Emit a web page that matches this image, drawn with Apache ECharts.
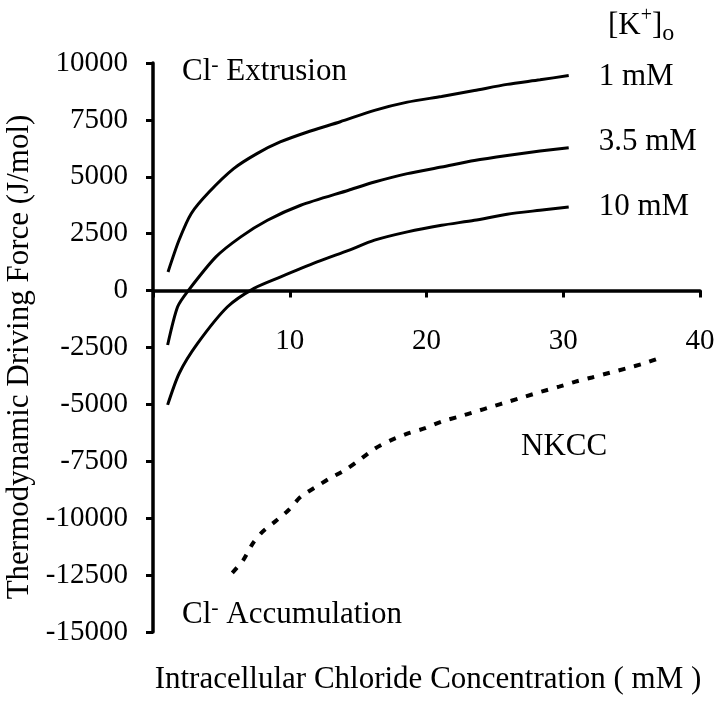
<!DOCTYPE html>
<html>
<head>
<meta charset="utf-8">
<script src="https://cdn.jsdelivr.net/npm/echarts@6/dist/echarts.min.js"></script>
<style>
html,body{margin:0;padding:0;background:#fff;}
#chart{width:720px;height:701px;}
</style>
</head>
<body>
<div id="chart"></div>
<script>
// ---- data ----
var xTicks = [0, 10, 20, 30, 40];
var yTicks = [-15000, -12500, -10000, -7500, -5000, -2500, 0, 2500, 5000, 7500, 10000];

var k1Name = '1 mM';
var k1X = [1.1, 1.9, 2.8, 4.1, 5.9, 7.6, 9.3, 11.3, 13.7, 16.2, 18.6, 21.1, 23.5, 25.9, 28.3, 30.4];
var k1Y = [820, 2210, 3390, 4330, 5360, 6020, 6530, 6970, 7420, 7920, 8280, 8530, 8790, 9060, 9260, 9450];

var k35Name = '3.5 mM';
var k35X = [1.07, 1.8, 2.58, 4.6, 6.42, 8.37, 10.8, 14.3, 16.2, 18.6, 21.1, 23.5, 25.9, 28.3, 30.4];
var k35Y = [-2390, -710, 0, 1480, 2360, 3090, 3750, 4410, 4770, 5140, 5430, 5720, 5940, 6130, 6280];

var k10Name = '10 mM';
var k10X = [1.07, 1.92, 3.26, 5.45, 7.39, 9.34, 12.0, 14.3, 16.2, 18.6, 21.1, 23.5, 25.9, 28.3, 30.4];
var k10Y = [-5020, -3630, -2320, -710, 100, 605, 1260, 1770, 2215, 2580, 2870, 3090, 3355, 3530, 3675];

var nkccX = [5.8, 6.6, 7.3, 8.0, 8.9, 9.9, 10.8, 11.9, 12.9, 14.0, 14.9, 16.2, 17.3, 18.7, 19.9, 21.1, 22.4, 23.6, 24.8, 26.0, 27.2, 28.4, 29.7, 30.9, 32.1, 33.4, 34.6, 35.9, 37.3];
var nkccY = [-12400, -11840, -11110, -10600, -10160, -9650, -9060, -8630, -8260, -7900, -7530, -6950, -6600, -6265, -6046, -5755, -5535, -5316, -5096, -4877, -4660, -4440, -4220, -4000, -3816, -3610, -3420, -3202, -2908];

function pairs(xs, ys) { return xs.map(function (x, i) { return [x, ys[i]]; }); }

var FONT = '"Liberation Serif", "Times New Roman", serif';
var GRID = {left: 153, right: 20, top: 63, bottom: 69};
var H = 701, plotH = H - GRID.top - GRID.bottom;
var yMin = yTicks[0], yMax = yTicks[yTicks.length - 1];
// move the x axis up so that it sits on y = 0
var xAxisOffset = -plotH * (0 - yMin) / (yMax - yMin);

var chart = echarts.init(document.getElementById('chart'), null, {renderer: 'canvas'});

function curve(name, xs, ys, dy) {
  return {
    name: name, type: 'line', data: pairs(xs, ys),
    showSymbol: false, smooth: 0.25,
    lineStyle: {color: '#000', width: 3},
    endLabel: {show: true, formatter: '{a}', color: '#000', fontFamily: FONT, fontSize: 31,
               distance: 30, offset: [0, dy]},
    silent: true, animation: false
  };
}

var option = {
  backgroundColor: '#fff',
  animation: false,
  grid: {left: GRID.left, right: GRID.right, top: GRID.top, bottom: GRID.bottom, containLabel: false},
  xAxis: {
    type: 'value', min: xTicks[0], max: xTicks[xTicks.length - 1], interval: 10,
    position: 'bottom', offset: xAxisOffset,
    axisLine: {onZero: false, lineStyle: {color: '#000', width: 3.5}},
    axisTick: {show: true, inside: false, length: 7, lineStyle: {color: '#000', width: 3}},
    axisLabel: {color: '#000', fontFamily: FONT, fontSize: 29, margin: 36,
                formatter: function (v) { return v === 0 ? '' : String(v); }},
    splitLine: {show: false}
  },
  yAxis: {
    type: 'value', min: yMin, max: yMax, interval: 2500,
    axisLine: {onZero: false, lineStyle: {color: '#000', width: 3.5}},
    axisTick: {show: true, inside: false, length: 7, lineStyle: {color: '#000', width: 3}},
    axisLabel: {color: '#000', fontFamily: FONT, fontSize: 29, margin: 25,
                formatter: function (v) { return String(v); }},
    splitLine: {show: false}
  },
  series: [
    curve(k1Name, k1X, k1Y, 1),
    curve(k35Name, k35X, k35Y, -6),
    curve(k10Name, k10X, k10Y, 0),
    {
      name: 'NKCC', type: 'line', data: pairs(nkccX, nkccY),
      showSymbol: false, smooth: 0.25,
      lineStyle: {color: '#000', width: 4, type: [7, 9], cap: 'butt'},
      silent: true, animation: false
    }
  ],
  graphic: [
    {type: 'text', left: 182, top: 54, style: {
      text: '{n|Cl}{s|-}{n| Extrusion}', fill: '#000',
      rich: {n: {fontFamily: FONT, fontSize: 31, lineHeight: 36, fill: '#000'},
             s: {fontFamily: FONT, fontSize: 22, verticalAlign: 'top', lineHeight: 20, fill: '#000'}}}},
    {type: 'text', left: 182, top: 597, style: {
      text: '{n|Cl}{s|-}{n| Accumulation}', fill: '#000',
      rich: {n: {fontFamily: FONT, fontSize: 31, lineHeight: 36, fill: '#000'},
             s: {fontFamily: FONT, fontSize: 22, verticalAlign: 'top', lineHeight: 20, fill: '#000'}}}},
    {type: 'text', left: 521, top: 431, style: {
      text: 'NKCC', fill: '#000', font: '31px ' + FONT}},
    {type: 'text', left: 608, top: 6, style: {
      text: '{n|[K}{s|+}{n|]}{b|o}', fill: '#000',
      rich: {n: {fontFamily: FONT, fontSize: 31, lineHeight: 40, verticalAlign: 'middle', fill: '#000'},
             s: {fontFamily: FONT, fontSize: 20, verticalAlign: 'top', lineHeight: 24, fill: '#000'},
             b: {fontFamily: FONT, fontSize: 24, verticalAlign: 'bottom', lineHeight: 26, fill: '#000'}}}},
    {type: 'text', x: 20, y: 357, rotation: Math.PI / 2, style: {
      text: 'Thermodynamic Driving Force (J/mol)', fill: '#000', font: '31px ' + FONT,
      align: 'center', verticalAlign: 'middle'}},
    {type: 'text', x: 428, y: 680, style: {
      text: 'Intracellular Chloride Concentration ( mM )', fill: '#000', font: '31px ' + FONT,
      align: 'center', verticalAlign: 'middle'}}
  ]
};
chart.setOption(option);
</script>
</body>
</html>
